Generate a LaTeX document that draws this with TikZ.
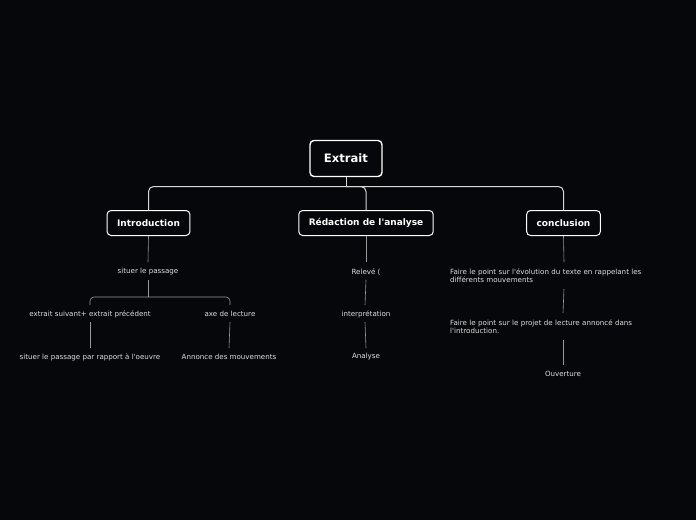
\documentclass[tikz,border=0pt]{standalone}
\usepackage{fontspec}
\setmainfont{DejaVu Sans}
\usepackage{xcolor}
\definecolor{colBg}{HTML}{06070A}
\definecolor{colLine}{HTML}{D8D8D8}
\definecolor{colSub}{HTML}{9A9A9A}
\definecolor{colTxt}{HTML}{E0E0E0}
\usetikzlibrary{positioning}
\newcommand{\apos}{\textquotesingle}
\tikzset{
	rootbox/.style={draw=white, line width=1.4pt, rounded corners=4pt, fill=colBg, text=white, font=\bfseries\fontsize{11.6}{13}\selectfont, minimum width=72pt, minimum height=36pt},
	topicbox/.style={draw=white, line width=1pt, rounded corners=4pt, fill=colBg, text=white, font=\bfseries\fontsize{9}{10}\selectfont, minimum height=25pt, inner xsep=10pt},
	leaf/.style={text=colTxt, font=\fontsize{7.1}{8}\selectfont, inner sep=1pt},
	leafwide/.style={leaf, anchor=west, text width=198pt, align=left},
	treeline/.style={draw=colLine, line width=1pt, rounded corners=5pt},
	subline/.style={draw=colSub, line width=0.6pt, rounded corners=4pt},
}
\begin{document}
\begin{tikzpicture}[x=1pt, y=-1pt]
	\fill[colBg] (0,0) rectangle (696,520);
	\useasboundingbox (0,0) rectangle (696,520);
	% main topics
	\node[rootbox] (ex) at (346,158.5) {Extrait};
	\node[topicbox] (intro) at (148.5,223) {Introduction};
	\node[topicbox] (redac) at (366,223) {Rédaction de l\apos analyse};
	\node[topicbox] (concl) at (563.5,223) {conclusion};
	\coordinate (exj) at (346,186.5);
	\draw[treeline] (ex.south) -- (exj);
	\draw[treeline] (exj) -| (intro.north);
	\draw[treeline] (exj) -| (redac.north);
	\draw[treeline] (exj) -| (concl.north);
	% introduction
	\node[leaf] (sit) at (148,272) {situer le passage};
	\node[leaf] (ext) at (90,314) {extrait suivant+ extrait précédent};
	\node[leaf] (axe) at (230,314) {axe de lecture};
	\node[leaf] (oeu) at (90,357) {situer le passage par rapport à l\apos oeuvre};
	\node[leaf] (ann) at (229,357) {Annonce des mouvements};
	\coordinate (sitj) at (148,297);
	\draw[subline] (intro.south) -- (148,262);
	\draw[subline] (148,280) -- (sitj);
	\draw[subline] (sitj) -| (90,305);
	\draw[subline] (sitj) -| (230,305);
	\draw[subline] (90,322) -- (90,348);
	\draw[subline] (230,322) -- (229,348);
	% redaction
	\node[leaf] (rel) at (366,272) {Relevé (};
	\node[leaf] (itp) at (366,314) {interprétation};
	\node[leaf] (ana) at (366,357) {Analyse};
	\draw[subline] (redac.south) -- (366,262);
	\draw[subline] (366,280) -- (365,305);
	\draw[subline] (365,322) -- (366,348);
	% conclusion
	\node[leafwide] (evo) at (449,276) {Faire le point sur l\apos évolution du texte en rappelant les différents mouvements};
	\node[leafwide] (prj) at (449,327) {Faire le point sur le projet de lecture annoncé dans l\apos introduction.};
	\node[leaf] (ouv) at (563,374) {Ouverture};
	\draw[subline] (concl.south) -- (564,262);
	\draw[subline] (564,289) -- (563,313);
	\draw[subline] (563,340) -- (563,365);
\end{tikzpicture}
\end{document}
